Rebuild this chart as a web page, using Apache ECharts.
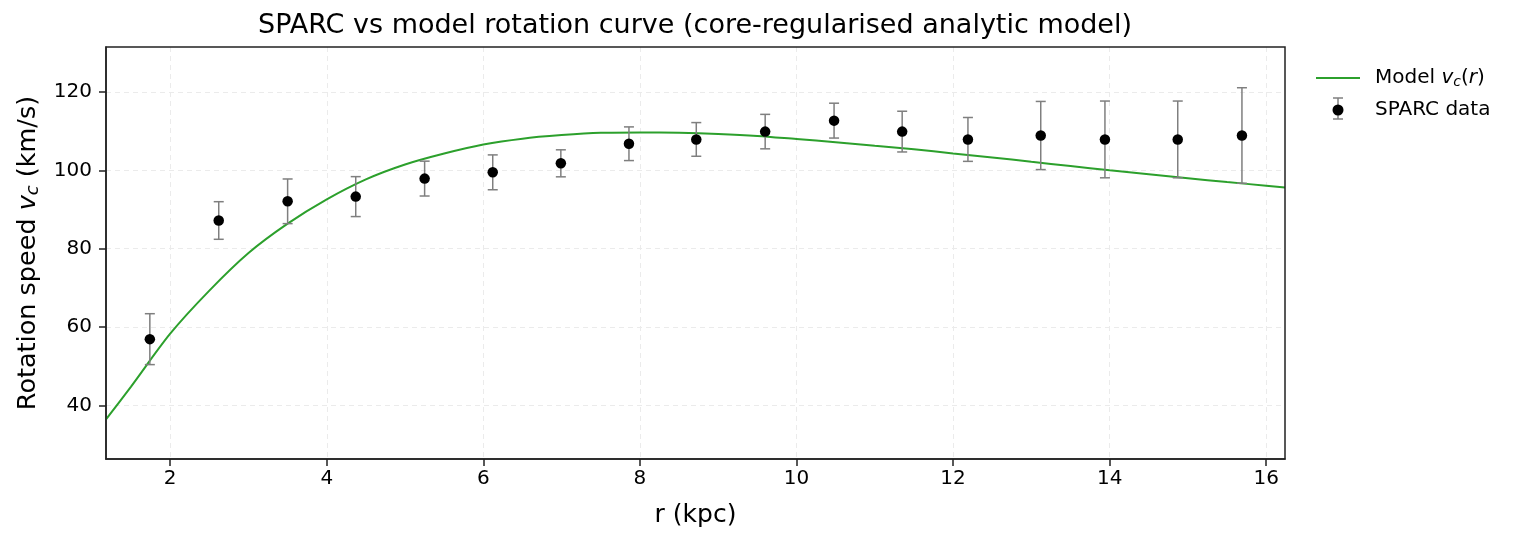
<!DOCTYPE html>
<html>
<head>
<meta charset="utf-8">
<title>SPARC vs model rotation curve</title>
<script src="https://cdn.jsdelivr.net/npm/echarts@6/dist/echarts.min.js"></script>
<style>
	html, body { margin: 0; padding: 0; background: #fff; }
	#chart { width: 1517px; height: 542px; }
</style>
</head>
<body>
<div id="chart"></div>
<script>
const radius = [1.74, 2.62, 3.50, 4.37, 5.25, 6.12, 6.99, 7.86, 8.72, 9.60, 10.48, 11.35, 12.19, 13.12, 13.94, 14.87, 15.69];
const vObs = [56.9, 87.2, 92.1, 93.3, 97.9, 99.5, 101.8, 106.8, 107.9, 109.9, 112.7, 109.9, 107.9, 108.9, 107.9, 107.9, 108.9];
const vErr = [6.5, 4.8, 5.7, 5.1, 4.45, 4.45, 3.45, 4.3, 4.3, 4.4, 4.45, 5.2, 5.6, 8.7, 9.8, 9.8, 12.2];

// model curve
const modelR = [1.18, 1.5, 2.0, 2.5, 3.0, 3.5, 4.0, 4.5, 5.0, 5.5, 6.0, 6.5, 7.0, 7.5, 8.0, 8.5, 9.0, 9.5, 10.0,
	10.5, 11.0, 11.5, 12.0, 12.5, 13.0, 13.5, 14.0, 14.5, 15.0, 15.5, 16.0, 16.24];
const modelV = [36.4, 44.8, 58.3, 69.3, 78.9, 86.4, 92.6, 97.7, 101.5, 104.3, 106.6, 108.1, 109.0, 109.6, 109.7, 109.6, 109.3, 108.8, 108.0,
	107.2, 106.3, 105.4, 104.3, 103.3, 102.2, 101.1, 100.0, 99.0, 98.0, 97.0, 96.1, 95.6];

// ticks
const xTicks = [2, 4, 6, 8, 10, 12, 14, 16];
const yTicks = [40, 60, 80, 100, 120];

const FONT = 'DejaVu Sans';
const chart = echarts.init(document.getElementById('chart'), null, { renderer: 'canvas' });

const errData = radius.map((r, i) => [r, vObs[i] - vErr[i], vObs[i] + vErr[i]]);
const obsData = radius.map((r, i) => [r, vObs[i]]);
const modelData = modelR.map((r, i) => [r, modelV[i]]);

function renderErr(params, api) {
	const x = api.value(0),
		top = api.coord([x, api.value(2)]),
		bot = api.coord([x, api.value(1)]),
		half = 5,
		style = { stroke: '#7f7f7f', lineWidth: 1.5 };

	return {
		type: 'group',
		children: [
			{ type: 'line', shape: { x1: top[0], y1: top[1], x2: bot[0], y2: bot[1] }, style },
			{ type: 'line', shape: { x1: top[0] - half, y1: top[1], x2: top[0] + half, y2: top[1] }, style },
			{ type: 'line', shape: { x1: bot[0] - half, y1: bot[1], x2: bot[0] + half, y2: bot[1] }, style }
		]
	};
}

const gridLine = { show: true, lineStyle: { color: '#ebebeb', width: 1, type: [5, 4] } };
const tickStyle = { show: true, inside: false, length: 7, lineStyle: { color: '#222', width: 1.5 } };
const spine = { show: true, onZero: false, lineStyle: { color: '#222', width: 1.5 } };

chart.setOption({
	animation: false,
	textStyle: { fontFamily: FONT },
	grid: {
		left: 106,
		right: 232,
		top: 47,
		bottom: 83,
		show: true,
		borderColor: '#222',
		borderWidth: 1.5,
		z: 5
	},
	xAxis: {
		type: 'value',
		min: 1.18,
		max: 16.24,
		axisLine: spine,
		axisTick: Object.assign({ customValues: xTicks }, tickStyle),
		axisLabel: { customValues: xTicks, margin: 10, fontSize: 20, color: '#000', fontFamily: FONT },
		splitLine: gridLine,
		name: 'r (kpc)',
		nameLocation: 'middle',
		nameGap: 44,
		nameTextStyle: { fontSize: 25, color: '#000', fontFamily: FONT, verticalAlign: 'top' }
	},
	yAxis: {
		type: 'value',
		min: 26.3,
		max: 131.5,
		axisLine: spine,
		axisTick: Object.assign({ customValues: yTicks }, tickStyle),
		axisLabel: { customValues: yTicks, margin: 14, fontSize: 20, color: '#000', fontFamily: FONT },
		splitLine: gridLine,
		name: 'Rotation speed {i|v}{s|c} (km/s)',
		nameLocation: 'middle',
		nameRotate: 90,
		nameGap: 64,
		nameTextStyle: {
			fontSize: 25.5,
			color: '#000',
			fontFamily: FONT,
			rich: {
				i: { fontSize: 25.5, fontStyle: 'italic', fontFamily: FONT, color: '#000' },
				s: { fontSize: 18, fontStyle: 'italic', fontFamily: FONT, color: '#000', padding: [10, 0, 0, 0] }
			}
		}
	},
	legend: {
		orient: 'vertical',
		left: 1311,
		top: 63,
		itemWidth: 44,
		itemHeight: 11,
		itemGap: 11,
		textStyle: {
			fontSize: 20,
			color: '#000',
			fontFamily: FONT,
			padding: [0, 0, 0, 10],
			rich: {
				i: { fontSize: 20, fontStyle: 'italic', fontFamily: FONT, color: '#000' },
				s: { fontSize: 14, fontStyle: 'italic', fontFamily: FONT, color: '#000', padding: [8, 0, 0, 0] }
			}
		},
		formatter: name => name === 'Model' ? 'Model {i|v}{s|c}({i|r})' : name,
		data: [
			{ name: 'Model', icon: 'path://M0 0H44V2H0Z' },
			{ name: 'SPARC data', icon: 'circle' }
		]
	},
	graphic: [
		{
			type: 'text',
			x: 695,
			y: 26,
			style: {
				text: 'SPARC vs model rotation curve (core-regularised analytic model)',
				font: '27px "DejaVu Sans"',
				fill: '#000',
				align: 'center',
				verticalAlign: 'middle'
			}
		},
		{
			type: 'group',
			z: 1,
			children: [
				{ type: 'line', shape: { x1: 1338, y1: 98, x2: 1338, y2: 119 }, style: { stroke: '#7f7f7f', lineWidth: 1.5 } },
				{ type: 'line', shape: { x1: 1333, y1: 98, x2: 1343, y2: 98 }, style: { stroke: '#7f7f7f', lineWidth: 1.5 } },
				{ type: 'line', shape: { x1: 1333, y1: 119, x2: 1343, y2: 119 }, style: { stroke: '#7f7f7f', lineWidth: 1.5 } }
			]
		}
	],
	series: [
		{
			name: 'Model',
			type: 'line',
			data: modelData,
			smooth: 0.3,
			symbol: 'none',
			clip: true,
			lineStyle: { color: '#2ca02c', width: 2 },
			itemStyle: { color: '#2ca02c' },
			z: 2
		},
		{
			name: 'errors',
			type: 'custom',
			data: errData,
			renderItem: renderErr,
			encode: { x: 0, y: [1, 2] },
			z: 3
		},
		{
			name: 'SPARC data',
			type: 'scatter',
			data: obsData,
			symbol: 'circle',
			symbolSize: 10.5,
			itemStyle: { color: '#000', opacity: 1 },
			z: 4
		}
	]
});
</script>
</body>
</html>
